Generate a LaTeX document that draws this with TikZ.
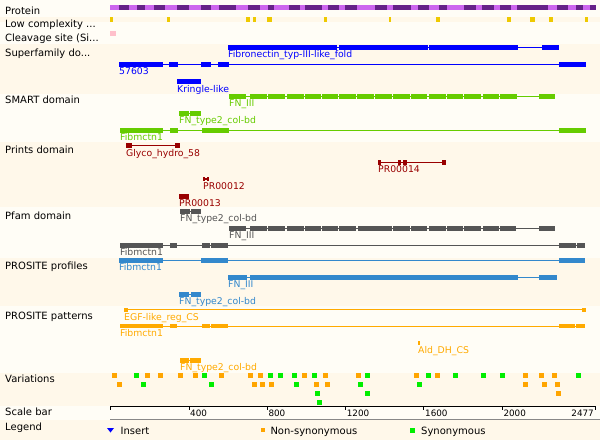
\documentclass[tikz,border=0pt]{standalone}
\usepackage{fontspec}
\setmainfont{DejaVu Sans}
\definecolor{bglight}{HTML}{FFFDF6}
\definecolor{bgdark}{HTML}{FFF8EA}
\definecolor{plight}{HTML}{CC66EE}
\definecolor{pdark}{HTML}{662288}
\definecolor{lowc}{HTML}{EEC900}
\definecolor{cleav}{HTML}{FFC0CB}
\definecolor{sfblue}{HTML}{0000FF}
\definecolor{smgreen}{HTML}{66CC00}
\definecolor{prred}{HTML}{990000}
\definecolor{pfgray}{HTML}{555555}
\definecolor{pfblue}{HTML}{3388CC}
\definecolor{ptorange}{HTML}{FFAA00}
\definecolor{varorange}{HTML}{FFA500}
\definecolor{vargreen}{HTML}{00EE00}
\definecolor{sbgray}{HTML}{888888}
\newcommand\mtrack[6]{% mau, tren, duoi, line tu, line den, cac doan
  \draw[#1,line width=1.2pt] (#4,{(#2+#3)/2}) -- (#5,{(#2+#3)/2});
  \foreach \a/\b in {#6} \fill[#1] (\a,#2) rectangle (\b,#3);}
\begin{document}
\begin{tikzpicture}[x=1pt,y=-1pt,every node/.style={inner sep=0pt,anchor=base west},rowlab/.style={font=\fontsize{10}{12}\selectfont},trklab/.style={font=\fontsize{9.3}{11}\selectfont},ticklab/.style={font=\fontsize{8.8}{10}\selectfont}]
                \fill[bglight] (0,0) rectangle (600,440);
                \useasboundingbox (0,0) rectangle (600,440);
                % cac dai nen
                \foreach \ya/\yb in {16.7/22,44.3/93.5,141.7/207.3,257.7/306,372.7/406,419.8/440} \fill[bgdark] (0,\ya) rectangle (600,\yb);
                % nhan cot trai
                \path node[rowlab] (lProtein) at (5,14) {Protein}
                      node[rowlab] (lLow) at (5,27.5) {Low complexity ...}
                      node[rowlab] (lCleav) at (5,41) {Cleavage site (Si...}
                      node[rowlab] (lSuper) at (5,56.5) {Superfamily do...}
                      node[rowlab] (lSmart) at (5,103.5) {SMART domain}
                      node[rowlab] (lPrints) at (5,153) {Prints domain}
                      node[rowlab] (lPfam) at (5,219) {Pfam domain}
                      node[rowlab] (lProf) at (5,269.5) {PROSITE profiles}
                      node[rowlab] (lPatt) at (5,319) {PROSITE patterns}
                      node[rowlab] (lVar) at (5,382.5) {Variations}
                      node[rowlab] (lScale) at (5,415.5) {Scale bar}
                      node[rowlab] (lLegend) at (5,430.5) {Legend};
                % protein
                \fill[plight] (110,5) rectangle (596,9.7);
                \foreach \a/\b in {119/129,137/145,154/165,177/189,201/211,219/236,248/260,268/274,289/300,305/322,328/339,345/357,375/387,393/411,418/429,439/447,464/476,482/494,500/511,517/548,557/568,576/583,590/596} \fill[pdark] (\a,5) rectangle (\b,9.7);
                \foreach \a/\b in {110/113,167/170,246/250,253/256,267/272,324/327,389/391,436/440,507/511,530/535,549/553,585/588} \fill[lowc] (\a,16.7) rectangle (\b,22);
                \fill[cleav] (110,31) rectangle (116,36);
                % superfamily
                \mtrack{sfblue}{45}{50}{228}{559}{228/337,339/428,429/518,542/559}
                \mtrack{sfblue}{62}{66.7}{119}{586}{119/163,169/178,201/211,218/229,559/586}
                \mtrack{sfblue}{79}{84}{177}{201}{177/201}
                \path node[trklab,text=sfblue] (sfFold) at (228,57.5) {Fibronectin\_typ-III-like\_fold}
                      node[trklab,text=sfblue] (sf57603) at (119,74.5) {57603}
                      node[trklab,text=sfblue] (sfKringle) at (177,92) {Kringle-like};
                % SMART
                \mtrack{smgreen}{94.3}{98.7}{229}{555}{229/246,250/267,268/285,287/304,305/321,322/338,339/356,357/374,375/392,393/410,411/427,429/446,447/463,464/481,483/499,500/517,539/555}
                \mtrack{smgreen}{111}{115.7}{179}{201}{179/189,190/201}
                \mtrack{smgreen}{128}{132.7}{120}{586}{120/163,170/178,202/229,559/586}
                \path node[trklab,text=smgreen] (smFN) at (229,106.7) {FN\_III}
                      node[trklab,text=smgreen] (smCol) at (179,123.5) {FN\_type2\_col-bd}
                      node[trklab,text=smgreen] (smFib) at (120,140.5) {Fibmctn1};
                % prints
                \mtrack{prred}{143.2}{147.6}{126}{180}{126/132,175/180}
                \mtrack{prred}{160}{164.6}{378}{446}{378/381,398/401,403/407,442/446}
                \mtrack{prred}{177}{181}{203}{209}{203/205,207/209}
                \mtrack{prred}{194}{198.5}{179}{189}{179/189}
                \path node[trklab,text=prred] (prGlyco) at (126,156) {Glyco\_hydro\_58}
                      node[trklab,text=prred] (pr14) at (378,172.7) {PR00014}
                      node[trklab,text=prred] (pr12) at (203,189) {PR00012}
                      node[trklab,text=prred] (pr13) at (179,206.3) {PR00013};
                % pfam
                \mtrack{pfgray}{209}{213.7}{180}{201}{180/190,191/201}
                \mtrack{pfgray}{226}{230.7}{229}{555}{229/246,250/267,268/285,287/304,305/321,322/338,339/356,358/392,393/410,411/427,429/446,447/463,464/481,483/499,500/516,539/555}
                \mtrack{pfgray}{243}{247.7}{120}{585}{120/163,170/177,202/210,211/228,559/576,577/585}
                \path node[trklab,text=pfgray] (pfCol) at (180,221.5) {FN\_type2\_col-bd}
                      node[trklab,text=pfgray] (pfFN) at (229,238.5) {FN\_III}
                      node[trklab,text=pfgray] (pfFib) at (120,255.5) {Fibmctn1};
                % prosite profiles
                \mtrack{pfblue}{257.7}{262.7}{119}{585}{119/163,201/228,559/585}
                \mtrack{pfblue}{275}{279.7}{228}{557}{228/247,250/518,539/557}
                \mtrack{pfblue}{292.3}{296.7}{179}{201}{179/189,191/201}
                \path node[trklab,text=pfblue] (ppFib) at (119,270.5) {Fibmctn1}
                      node[trklab,text=pfblue] (ppFN) at (228,287.5) {FN\_III}
                      node[trklab,text=pfblue] (ppCol) at (179,304.5) {FN\_type2\_col-bd};
                % prosite patterns
                \mtrack{ptorange}{307.7}{311.7}{124}{586}{124/128,582/586}
                \mtrack{ptorange}{324}{328.3}{120}{585}{120/163,170/177,202/210,211/228,559/575,576/585}
                \mtrack{ptorange}{341}{345}{418}{420}{418/420}
                \mtrack{ptorange}{358.3}{362.7}{180}{201}{180/189,190/201}
                \path node[trklab,text=ptorange] (ptEGF) at (124,320) {EGF-like\_reg\_CS}
                      node[trklab,text=ptorange] (ptFib) at (120,336.3) {Fibmctn1}
                      node[trklab,text=ptorange] (ptAld) at (418,353) {Ald\_DH\_CS}
                      node[trklab,text=ptorange] (ptCol) at (180,370.7) {FN\_type2\_col-bd};
                % variations
                \foreach \x/\r in {112/0,145/0,158/0,178/0,193/0,219/0,248/0,258/0,302/0,323/0,356/0,414/0,435/0,523/0,539/0,552/0,117/1,252/1,260/1,269/1,314/1,325/1,523/1,542/1,555/1,556/2} \fill[varorange] (\x,372.7+9*\r) rectangle +(5,5);
                \foreach \x/\r in {134/0,202/0,268/0,278/0,292/0,312/0,365/0,426/0,453/0,481/0,500/0,576/0,141/1,209/1,294/1,358/1,417/1,315/2,365/2,317/3} \fill[vargreen] (\x,372.7+9*\r) rectangle +(5,5);
                % scale bar
                \draw[line width=1pt] (110.7,406.7) -- (595.7,406.7);
                \foreach \u in {0,400,...,2000,2477} \draw[line width=1pt] ({110.7+0.1958*\u},406.2) -- ({110.7+0.1958*\u},409.8);
                \foreach \u in {400,800,...,2000} \path node[ticklab] (t\u) at ({111.7+0.1958*\u},416.7) {\u};
                \path node[ticklab,anchor=base east] (tEnd) at (594,416.7) {2477};
                \draw[sbgray,line width=1pt] (110,419.3) -- (600,419.3);
                % legend
                \fill[sfblue] (107,428) -- (114,428) -- (110.5,432.5) -- cycle;
                \fill[varorange] (261,428) rectangle (265,432);
                \fill[vargreen] (410,428) rectangle (415,433);
                \path node[rowlab] (gInsert) at (120.5,434) {Insert}
                      node[rowlab] (gNon) at (270.3,434) {Non-synonymous}
                      node[rowlab] (gSyn) at (421,434) {Synonymous};
            \end{tikzpicture}
\end{document}
